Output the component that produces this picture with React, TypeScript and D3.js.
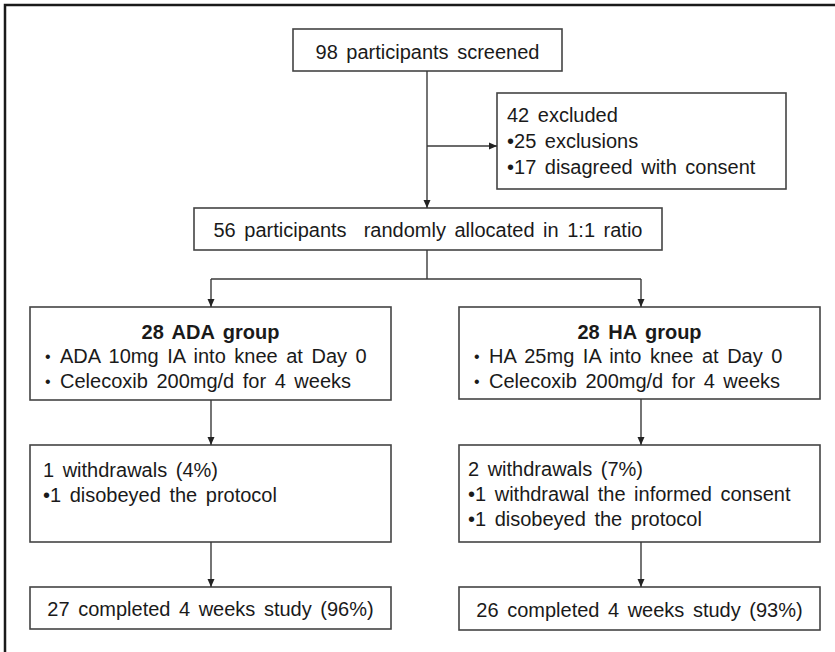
import React, { useEffect, useRef } from "react";
import * as d3 from "d3";

// flow chart texts
const screenedText = ["98 participants screened"];
const excludedText = ["42 excluded", "•25 exclusions", "•17 disagreed with consent"];
const randomText = ["56 participants  randomly allocated in 1:1 ratio"];
const adaTitle = "28 ADA group";
const adaItems = ["ADA 10mg IA into knee at Day 0", "Celecoxib 200mg/d for 4 weeks"];
const haTitle = "28 HA group";
const haItems = ["HA 25mg IA into knee at Day 0", "Celecoxib 200mg/d for 4 weeks"];
const adaWithdrawText = ["1 withdrawals (4%)", "•1 disobeyed the protocol"];
const haWithdrawText = ["2 withdrawals (7%)", "•1 withdrawal the informed consent", "•1 disobeyed the protocol"];
const adaCompleteText = ["27 completed 4 weeks study (96%)"];
const haCompleteText = ["26 completed 4 weeks study (93%)"];

const W = 835;
const H = 652;

const App = () => {
    const svgRef = useRef(null);

    useEffect(() => {
        const svg = d3.select(svgRef.current);
        svg.selectAll("*").remove();

        const font = "'Liberation Sans', Arial, sans-serif";
        const ink = "#1a1a1a";
        const lineCol = "#3a3a3a";

        // layout of boxes
        const boxes = [
            { id: "screen", x: 293, y: 29, w: 269, h: 42 },
            { id: "excl", x: 497, y: 93, w: 289, h: 96 },
            { id: "rand", x: 194, y: 208, w: 468, h: 42 },
            { id: "ada", x: 30, y: 307, w: 361, h: 93 },
            { id: "ha", x: 459, y: 307, w: 361, h: 92 },
            { id: "adaW", x: 30, y: 445, w: 361, h: 97 },
            { id: "haW", x: 459, y: 445, w: 361, h: 97 },
            { id: "adaC", x: 30, y: 587, w: 361, h: 42 },
            { id: "haC", x: 459, y: 587, w: 361, h: 43 },
        ];

        // outer frame (only top and left visible)
        svg.append("path")
            .attr("d", `M5,${H} L5,5 L${W},5`)
            .attr("fill", "none")
            .attr("stroke", "#1a1a1a")
            .attr("stroke-width", 2.5);

        svg.selectAll("rect.box")
            .data(boxes)
            .enter()
            .append("rect")
            .attr("class", "box")
            .attr("x", (d) => d.x)
            .attr("y", (d) => d.y)
            .attr("width", (d) => d.w)
            .attr("height", (d) => d.h)
            .attr("fill", "#fff")
            .attr("stroke", "#444")
            .attr("stroke-width", 1.6);

        // connectors
        const links = [
            { pts: [[427, 71], [427, 208]], arrow: true },
            { pts: [[427, 146], [497, 146]], arrow: true },
            { pts: [[427, 250], [427, 279]], arrow: false },
            { pts: [[211, 279], [641, 279]], arrow: false },
            { pts: [[211, 279], [211, 307]], arrow: true },
            { pts: [[641, 279], [641, 307]], arrow: true },
            { pts: [[211, 400], [211, 445]], arrow: true },
            { pts: [[641, 399], [641, 445]], arrow: true },
            { pts: [[211, 542], [211, 587]], arrow: true },
            { pts: [[641, 542], [641, 587]], arrow: true },
        ];

        const line = d3.line();
        svg.selectAll("path.link")
            .data(links)
            .enter()
            .append("path")
            .attr("class", "link")
            .attr("d", (d) => line(d.pts))
            .attr("fill", "none")
            .attr("stroke", lineCol)
            .attr("stroke-width", 1.4);

        // arrow heads
        svg.selectAll("path.head")
            .data(links.filter((d) => d.arrow))
            .enter()
            .append("path")
            .attr("class", "head")
            .attr("d", (d) => {
                const [x0, y0] = d.pts[0];
                const [x1, y1] = d.pts[1];
                const ang = Math.atan2(y1 - y0, x1 - x0);
                const len = 8, half = 3.5;
                const bx = x1 - len * Math.cos(ang);
                const by = y1 - len * Math.sin(ang);
                const px = -Math.sin(ang) * half;
                const py = Math.cos(ang) * half;
                return `M${x1},${y1} L${bx + px},${by + py} L${bx - px},${by - py} Z`;
            })
            .attr("fill", "#222");

        const addText = (lines, x, y0, step, anchor, weight = "normal", size = 20) => {
            svg.append("g")
                .selectAll("text")
                .data(lines)
                .enter()
                .append("text")
                .attr("x", x)
                .attr("y", (d, i) => y0 + i * step)
                .attr("text-anchor", anchor)
                .attr("font-family", font)
                .attr("font-size", size)
                .attr("font-weight", weight)
                .attr("word-spacing", "3px")
                .style("white-space", "pre")
                .attr("fill", ink)
                .text((d) => d);
        };

        addText(screenedText, 427.5, 59, 26, "middle");
        addText(excludedText, 507, 122, 26, "start");
        addText(randomText, 428, 237, 26, "middle");

        // group boxes
        addText([adaTitle], 210.5, 339, 0, "middle", "bold");
        addText(adaItems.map(() => "•"), 45, 362, 25, "start", "normal", 16);
        addText(adaItems, 60, 363, 25, "start");
        addText([haTitle], 639.5, 339, 0, "middle", "bold");
        addText(haItems.map(() => "•"), 474, 362, 25, "start", "normal", 16);
        addText(haItems, 489, 363, 25, "start");

        addText(adaWithdrawText, 43, 477, 25, "start");
        addText(haWithdrawText, 468, 476, 25, "start");

        addText(adaCompleteText, 210.5, 616, 0, "middle");
        addText(haCompleteText, 639.5, 617, 0, "middle");
    }, []);

    return (
        <svg
            ref={svgRef}
            width={W}
            height={H}
            style={{ position: "absolute", left: 0, top: 0, background: "#fff" }}
        />
    );
};

export default App;
